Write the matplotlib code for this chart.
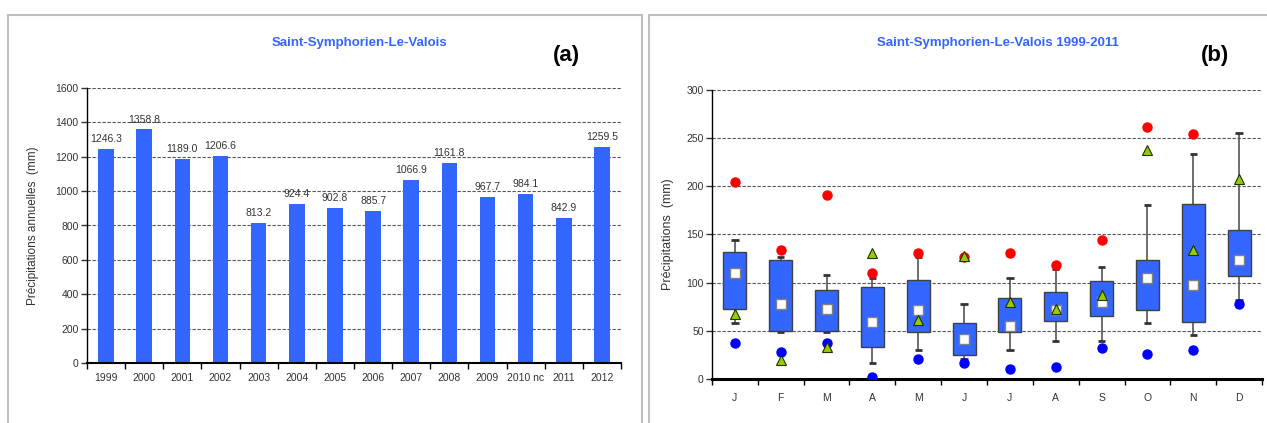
import numpy as np
import matplotlib
matplotlib.use("Agg")
import matplotlib.pyplot as plt
from matplotlib.patches import Rectangle

plt.rcParams['font.family'] = ['Liberation Sans', 'DejaVu Sans']

# annual totals
years = ['1999', '2000', '2001', '2002', '2003', '2004', '2005', '2006',
         '2007', '2008', '2009', '2010 nc', '2011', '2012']
annual = [1246.3, 1358.8, 1189.0, 1206.6, 813.2, 924.4, 902.8, 885.7,
          1066.9, 1161.8, 967.7, 984.1, 842.9, 1259.5]

# monthly statistics 1999-2011
months = ['J', 'F', 'M', 'A', 'M', 'J', 'J', 'A', 'S', 'O', 'N', 'D']
whisk_hi = [144, 127, 107.6, 105, 127, 78, 105, 114, 116.6, 181, 234, 255]
box_hi = [131.5, 124, 92.4, 95.5, 103, 58, 83.7, 90, 101.7, 124, 181.7, 155]
box_lo = [73, 50, 50, 33.6, 48.5, 24.6, 48.5, 60.5, 65.7, 72, 58.8, 107]
whisk_lo = [58, 48.5, 48.5, 17, 30, 21, 30, 39.4, 39.4, 58.5, 46, 82]
mean_m = [110, 77.5, 73, 59.5, 71.6, 41.5, 55, 71.6, 79.6, 104.5, 98, 124]
max_m = [205, 134, 191, 110, 131, 127, 130.4, 118, 144, 262, 254, np.nan]
min_m = [37, 28, 37.7, 2.4, 20.8, 17, 10.4, 12.8, 32, 26, 30, 77.5]
year_m = [67, 20, 33, 131, 61, 128, 79.6, 72.7, 86.8, 238, 134, 207.6]

BLUE = '#3366FF'
TXT = '#333333'
W, H = 1267, 423

fig = plt.figure(figsize=(W / 100, H / 100), dpi=100)

# panel frames
for x0, x1 in [(8, 642), (649, 1275)]:
    fig.patches.append(Rectangle((x0 / W, -0.05), (x1 - x0) / W, (H - 15) / H + 0.05,
                                 transform=fig.transFigure, fill=False,
                                 edgecolor='#BFBFBF', lw=1.5))


def style_axis(ax, n, ymax, step, xpad):
    ax.set_xlim(-0.5, n - 0.5)
    ax.set_ylim(0, ymax)
    ax.set_yticks(np.arange(0, ymax + 1, step))
    ax.set_xticks(np.arange(n))
    ax.set_xticks(np.arange(n + 1) - 0.5, minor=True)
    ax.tick_params(axis='x', which='major', length=0, pad=xpad, labelsize=7.5, colors=TXT)
    ax.tick_params(axis='x', which='minor', length=4, width=1, color='black')
    ax.tick_params(axis='y', length=4, width=1, labelsize=7.5, colors=TXT, pad=2)
    for s in ['top', 'right']:
        ax.spines[s].set_visible(False)
    ax.spines['left'].set_linewidth(1)
    for y in np.arange(step, ymax + 1, step):
        ax.axhline(y, color='#555555', lw=0.8, ls=(0, (3, 1.5)), zorder=0)
    ax.set_axisbelow(True)


# (a) annual precipitation
ax1 = fig.add_axes([87 / W, 1 - 363 / H, 534 / W, 275 / H])
x = np.arange(len(years))
ax1.bar(x, annual, width=0.41, color=BLUE, zorder=2)
for xi, v in zip(x, annual):
    ax1.annotate(f'{v:.1f}', (xi, v), xytext=(0, 3.5), textcoords='offset points',
                 ha='center', va='bottom', fontsize=7.5, color=TXT)
style_axis(ax1, len(years), 1600, 200, 7)
ax1.set_xticklabels(years)
ax1.spines['bottom'].set_linewidth(1.5)
ax1.set_ylabel('Précipitations annuelles  (mm)', fontsize=8.5, color=TXT, labelpad=12)
fig.text(359 / W, 1 - 43 / H, 'Saint-Symphorien-Le-Valois', color=BLUE,
         fontsize=9.5, fontweight='bold', ha='center', va='center')
fig.text(566 / W, 1 - 55 / H, '(a)', fontsize=16, fontweight='bold',
         ha='center', va='center')

# (b) monthly distribution
ax2 = fig.add_axes([712 / W, 1 - 379 / H, 550 / W, 289 / H])
xm = np.arange(len(months))
ax2.vlines(xm, whisk_lo, whisk_hi, color='#555555', lw=1.2, zorder=2)
ax2.hlines(whisk_hi, xm - 0.08, xm + 0.08, color='#333333', lw=2, zorder=2)
ax2.hlines(whisk_lo, xm - 0.08, xm + 0.08, color='#333333', lw=2, zorder=2)
ax2.bar(xm, np.array(box_hi) - np.array(box_lo), bottom=box_lo, width=0.5,
        color=BLUE, edgecolor='#404040', lw=1, zorder=3)
ax2.plot(xm, mean_m, 's', ms=7, mfc='white', mec='#808080', mew=1, zorder=4)
ax2.plot(xm, max_m, 'o', ms=6.5, color='#FF0000', zorder=5)
ax2.plot(xm, min_m, 'o', ms=6.5, color='#0000FF', zorder=5)
ax2.plot(xm, year_m, '^', ms=7, mfc='#99CC00', mec='#1a3300', mew=0.8, zorder=6)
style_axis(ax2, len(months), 300, 50, 10)
ax2.set_xticklabels(months)
ax2.spines['bottom'].set_linewidth(2.2)
ax2.set_ylabel('Précipitations  (mm)', fontsize=9, color=TXT, labelpad=9)
fig.text(998 / W, 1 - 43 / H, 'Saint-Symphorien-Le-Valois 1999-2011', color=BLUE,
         fontsize=9.5, fontweight='bold', ha='center', va='center')
fig.text(1215 / W, 1 - 55 / H, '(b)', fontsize=16, fontweight='bold',
         ha='center', va='center')

fig.savefig('out.png', dpi=100)
